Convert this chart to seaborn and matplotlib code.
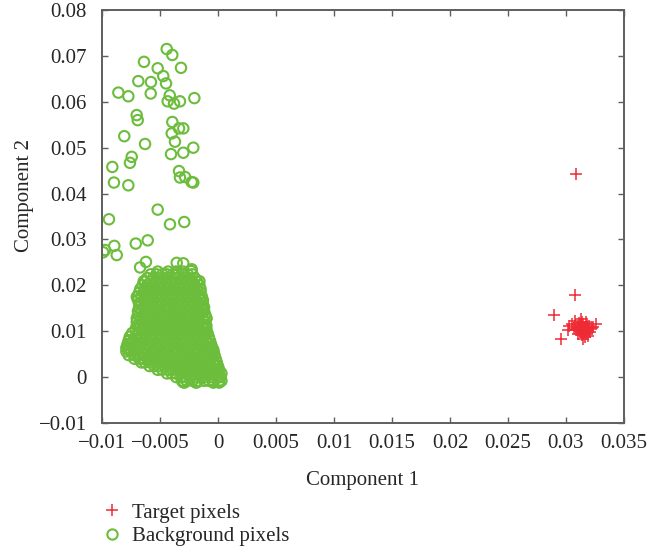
import matplotlib
matplotlib.use("Agg")
import matplotlib.pyplot as plt
from matplotlib.lines import Line2D
import seaborn as sns
import pandas as pd

# ---------------- data ----------------
# Target pixels (red "+")
target_x = [0.0309, 0.0308, 0.0290, 0.0296, 0.0302, 0.0326, 0.0303,
            0.0305, 0.0308, 0.0310, 0.0311, 0.0312, 0.0313, 0.0314, 0.0315,
            0.0316, 0.0317, 0.0318, 0.0319, 0.0320, 0.0321, 0.0322, 0.0310,
            0.0313, 0.0316, 0.0318, 0.0314, 0.0311, 0.0315, 0.0317, 0.0319,
            0.0312, 0.0316, 0.0320, 0.0309, 0.0313, 0.0323, 0.0307, 0.0315,
            0.0318, 0.0314]
target_y = [0.0442, 0.0180, 0.0135, 0.0082, 0.0102, 0.0115, 0.0112,
            0.0115, 0.0122, 0.0108, 0.0118, 0.0100, 0.0112, 0.0104, 0.0096,
            0.0110, 0.0120, 0.0102, 0.0090, 0.0112, 0.0098, 0.0106, 0.0095,
            0.0126, 0.0088, 0.0115, 0.0092, 0.0104, 0.0116, 0.0106, 0.0100,
            0.0110, 0.0100, 0.0104, 0.0102, 0.0098, 0.0110, 0.0108, 0.0084,
            0.0095, 0.0120]

# Background pixels (green "o"), sparse upper part and cluster edge points
bg_sparse_x = [-0.00442, -0.00394, -0.00638, -0.00520, -0.00319, -0.00472,
               -0.00687, -0.00578, -0.00448, -0.00859, -0.00773, -0.00580,
               -0.00416, -0.00204, -0.00434, -0.00379, -0.00328, -0.00701,
               -0.00692, -0.00394, -0.00336, -0.00299, -0.00808, -0.00399,
               -0.00629, -0.00371, -0.00213, -0.00299, -0.00405, -0.00744,
               -0.00759, -0.00911, -0.00336, -0.00328, -0.00284, -0.00227,
               -0.00213, -0.00897, -0.00773, -0.00520, -0.00940, -0.00414,
               -0.00291, -0.00894, -0.00709, -0.00606, -0.00974, -0.00990,
               -0.00873, -0.00621, -0.00672, -0.00356, -0.00299, -0.00227,
               -0.00700, -0.00760, -0.00770, -0.00640, -0.00130, -0.00100,
               -0.00160, -0.00230, -0.00590, -0.00300, -0.00180, -0.00040,
               -0.00010, 0.00020]
bg_sparse_y = [0.0715, 0.0702, 0.0687, 0.0673, 0.0674, 0.0656,
               0.0645, 0.0643, 0.0640, 0.0620, 0.0612, 0.0618,
               0.0614, 0.0608, 0.0601, 0.0596, 0.0601, 0.0571,
               0.0560, 0.0556, 0.0542, 0.0542, 0.0525, 0.0531,
               0.0508, 0.0513, 0.0500, 0.0489, 0.0486, 0.0480,
               0.0467, 0.0458, 0.0449, 0.0435, 0.0436, 0.0425,
               0.0424, 0.0424, 0.0418, 0.0365, 0.0344, 0.0333,
               0.0338, 0.0286, 0.0291, 0.0298, 0.0277, 0.0272,
               0.0266, 0.0251, 0.0239, 0.0249, 0.0248, 0.0235,
               0.0175, 0.0081, 0.0059, 0.0209, 0.0150, 0.0128,
               0.0209, 0.0231, 0.0037, -0.0011, -0.0011, 0.0059,
               0.0026, 0.0001]

# Background pixels, dense cluster: one row of x values (unit 1e-4) per y level (unit 1e-4)
bg_row_y = [230, 224, 216, 208, 200, 192, 184, 176, 168, 160, 152, 144, 136,
            128, 120, 112, 104, 96, 88, 80, 72, 64, 56, 48, 40, 32, 24, 16,
            8, 0, -8, -12]
bg_row_x = [
    [-52, -43, -36, -30],
    [-58, -53, -48, -44, -39, -35, -30, -26, -22],
    [-61, -56, -52, -47, -43, -38, -34, -29, -25, -20],
    [-63, -58, -54, -49, -45, -40, -36, -31, -27, -22, -18],
    [-65, -61, -56, -52, -47, -43, -38, -34, -29, -25, -20, -16],
    [-67, -63, -58, -54, -49, -45, -40, -36, -31, -27, -22, -18, -15],
    [-68, -64, -60, -55, -51, -46, -42, -37, -33, -28, -24, -19, -15],
    [-69, -66, -62, -57, -53, -48, -44, -39, -35, -30, -26, -21, -17, -14],
    [-69, -64, -60, -55, -51, -46, -42, -37, -33, -28, -24, -19, -15, -13],
    [-68, -66, -62, -57, -53, -48, -44, -39, -35, -30, -26, -21, -17, -13],
    [-68, -64, -59, -55, -50, -46, -41, -37, -32, -28, -23, -19, -14, -12],
    [-69, -66, -61, -57, -52, -48, -43, -39, -34, -30, -25, -21, -16, -12],
    [-69, -64, -60, -55, -51, -46, -42, -37, -33, -28, -24, -19, -15, -11],
    [-70, -66, -62, -57, -53, -48, -44, -39, -35, -30, -26, -21, -17, -13, -10],
    [-70, -65, -61, -56, -52, -47, -43, -38, -34, -29, -25, -20, -16, -11],
    [-70, -67, -63, -58, -54, -49, -45, -40, -36, -31, -27, -22, -18, -13, -10],
    [-71, -66, -62, -57, -53, -48, -44, -39, -35, -30, -26, -21, -17, -12, -10],
    [-74, -69, -64, -60, -55, -51, -46, -42, -37, -33, -28, -24, -19, -15, -11, -9],
    [-76, -71, -67, -62, -58, -53, -49, -44, -40, -35, -31, -26, -22, -17, -13, -8],
    [-77, -73, -69, -64, -60, -55, -51, -46, -42, -37, -33, -28, -24, -19, -15, -10, -7],
    [-78, -75, -71, -66, -62, -57, -53, -48, -44, -39, -35, -30, -26, -21, -17, -12, -8, -6],
    [-79, -77, -73, -68, -64, -59, -55, -50, -46, -41, -37, -32, -28, -23, -19, -14, -10, -6, -5],
    [-79, -75, -70, -66, -61, -57, -52, -48, -43, -39, -34, -30, -25, -21, -16, -12, -7, -4],
    [-77, -72, -68, -63, -59, -54, -50, -45, -41, -36, -32, -27, -23, -18, -14, -9, -5, -3],
    [-72, -68, -65, -61, -56, -52, -47, -43, -38, -34, -29, -25, -20, -16, -11, -7, -2],
    [-66, -63, -58, -54, -49, -45, -40, -36, -31, -27, -22, -18, -13, -9, -4, -1],
    [-59, -55, -51, -46, -42, -37, -33, -28, -24, -19, -15, -10, -6, -2, 0],
    [-52, -48, -43, -39, -34, -30, -25, -21, -16, -12, -7, -3, 1],
    [-44, -40, -36, -31, -27, -22, -18, -13, -9, -4, 0, 3],
    [-36, -32, -28, -24, -19, -15, -10, -6, -1, 2],
    [-31, -27, -22, -17, -12, -8, -4, 1, 3],
    [-29, -19, -4, 1],
]

x_ticks = [-0.01, -0.005, 0, 0.005, 0.01, 0.015, 0.02, 0.025, 0.03, 0.035]
x_tick_labels = ["\u22120.01", "\u22120.005", "0", "0.005", "0.01", "0.015",
                 "0.02", "0.025", "0.03", "0.035"]
y_ticks = [-0.01, 0, 0.01, 0.02, 0.03, 0.04, 0.05, 0.06, 0.07, 0.08]
y_tick_labels = ["\u22120.01", "0", "0.01", "0.02", "0.03", "0.04", "0.05",
                 "0.06", "0.07", "0.08"]
series_labels = ["Target pixels", "Background pixels"]

# ---------------- assemble tables ----------------
bg_x = list(bg_sparse_x)
bg_y = list(bg_sparse_y)
for yv, xs in zip(bg_row_y, bg_row_x):
    for xv in xs:
        bg_x.append(xv * 1e-4)
        bg_y.append(yv * 1e-4)
bg = pd.DataFrame({"c1": bg_x, "c2": bg_y})
tg = pd.DataFrame({"c1": target_x, "c2": target_y})

# ---------------- style ----------------
sns.set_style("ticks")
plt.rcParams["font.family"] = ["Liberation Serif", "DejaVu Serif"]
plt.rcParams["font.size"] = 15

RED = "#ee2a35"
GREEN = "#6cbd3c"
SPINE = "#5e5e5e"

fig = plt.figure(figsize=(6.63, 5.48), dpi=100)
ax = fig.add_axes([102 / 663, 125 / 548, 522 / 663, 413 / 548])

sns.scatterplot(data=bg, x="c1", y="c2", ax=ax, marker="o", s=56,
                color=GREEN, facecolor="none", edgecolor=GREEN,
                linewidth=1.5, legend=False, zorder=2)
sns.scatterplot(data=tg, x="c1", y="c2", ax=ax, marker="+", s=70,
                color=RED, linewidth=1.1, legend=False, zorder=3)

ax.set_xlim(-0.01, 0.035)
ax.set_ylim(-0.01, 0.08)
ax.set_xticks(x_ticks)
ax.set_xticklabels(x_tick_labels)
ax.set_yticks(y_ticks)
ax.set_yticklabels(y_tick_labels)
ax.tick_params(direction="in", length=4, width=1.0, color=SPINE,
               top=True, right=True, labelsize=15)
ax.tick_params(axis="x", pad=8)
ax.tick_params(axis="y", pad=11)
for sp in ax.spines.values():
    sp.set_color(SPINE)
    sp.set_linewidth(1.4)

ax.set_xlabel("Component 1", fontsize=15, labelpad=13)
ax.set_ylabel("Component 2", fontsize=15)
ax.yaxis.set_label_coords(-0.131, 0.552)

handles = [
    Line2D([], [], linestyle="none", marker="+", markersize=8.3,
           markeredgewidth=1.1, color=RED),
    Line2D([], [], linestyle="none", marker="o", markersize=7.4,
           markerfacecolor="none", markeredgewidth=1.5,
           markeredgecolor=GREEN),
]
fig.legend(handles, series_labels, loc="upper left",
           bbox_to_anchor=(104 / 663, 1 - 503 / 548), frameon=False,
           fontsize=15, handlelength=0.8, handletextpad=0.55,
           borderpad=0, borderaxespad=0, labelspacing=0.2)

fig.savefig("out.png", dpi=100)
